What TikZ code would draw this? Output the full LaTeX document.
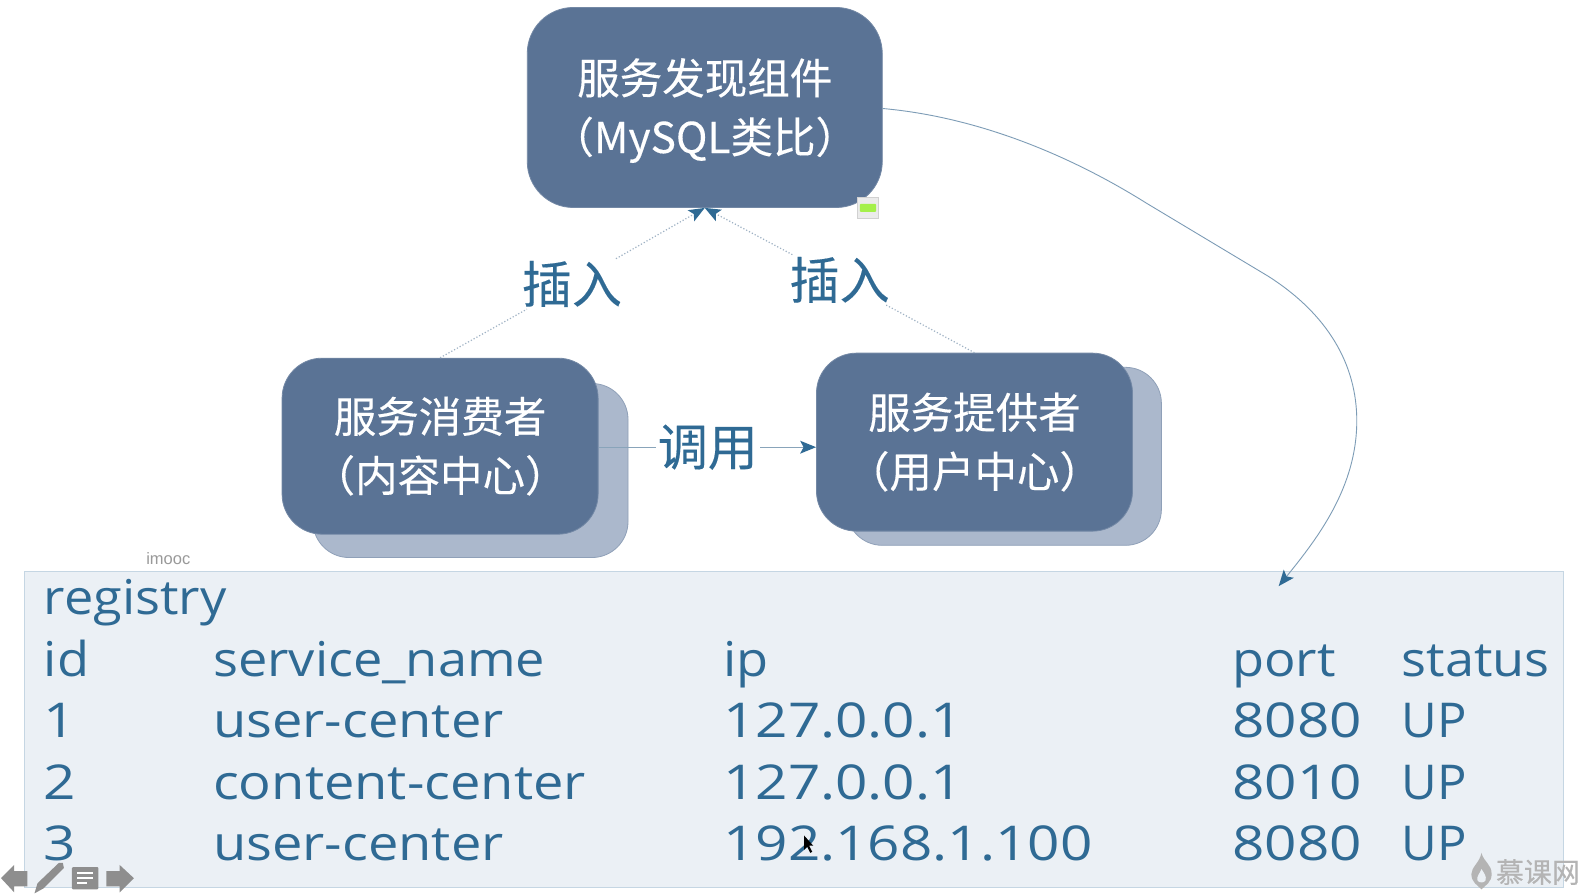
\documentclass[tikz,border=0pt]{standalone}
\usepackage{fontspec}
\setmainfont{Open Sans}
\newfontfamily\cjk[FakeBold=0.25]{Noto Sans CJK SC}
\newfontfamily\wordface[FakeStretch=1.09]{Open Sans}
\newfontfamily\hyphface[FakeStretch=1.13]{Open Sans}
\newfontfamily\digitface[FakeStretch=1.18]{Open Sans}
\newfontfamily\capface[FakeStretch=1.02]{Open Sans}
\newfontfamily\smallface{Liberation Sans}
\usetikzlibrary{arrows.meta}
\definecolor{boxblue}{HTML}{5A7395}
\definecolor{shadowblue}{HTML}{ABB8CC}
\definecolor{shadowedge}{HTML}{8FA0B8}
\definecolor{inkblue}{HTML}{2F6A94}
\definecolor{tablefill}{HTML}{EBF0F5}
\definecolor{tableedge}{HTML}{C5D6E3}
\definecolor{linegray}{HTML}{9FB2C4}
\definecolor{iconfill}{HTML}{8E8E8E}
\definecolor{markgray}{HTML}{B4B4B4}
\definecolor{lamp}{HTML}{A4F04A}
\tikzset{
  x=1.014pt,y=-1.014pt,
  card/.style={draw=boxblue!85!white,line width=.8pt,fill=boxblue,rounded corners=40pt,minimum width=316pt,minimum height=178pt,inner sep=0pt,align=center,text=white,font=\cjk\fontsize{42.5}{59}\selectfont},
  topcard/.style={card,rounded corners=46pt,minimum width=355pt,minimum height=200pt},
  backcard/.style={draw=shadowedge,line width=.8pt,fill=shadowblue,rounded corners=36pt,minimum width=315pt,minimum height=174pt,inner sep=0pt},
  edgelabel/.style={text=inkblue,inner sep=2pt,font=\cjk\fontsize{50}{52}\selectfont},
  cell/.style={anchor=base west,inner sep=0pt,text=inkblue,font=\fontsize{48}{50}\selectfont},
  dots/.style={draw=linegray,line width=1.2pt,dotted},
  tip/.style={-{Stealth[length=16pt,width=13pt,inset=3.5pt,color=inkblue,line width=0pt,sep=0pt]}},
  icon/.style={fill=iconfill,draw=none}
}
\begin{document}
\begin{tikzpicture}
\useasboundingbox (0,0) rectangle (1568,881.66);
\fill[white] (0,0) rectangle (1568,881.66);
% table
\node[draw=tableedge,line width=1pt,fill=tablefill,minimum width=1518*1.014pt,minimum height=311*1.014pt,inner sep=0pt] (table) at (783,719.5) {};
\node[anchor=base,inner sep=0pt,text=markgray!85!black,font=\smallface\fontsize{16.5}{18}\selectfont] (wm) at (166,557) {imooc};
\foreach \n/\x/\y/\f/\t in {
 r/43/606/\wordface/registry,
 h1/43/667/\wordface/id,h2/210/667/\wordface/service\_name,h3/713/667/\wordface/ip,h4/1215/667/\wordface/port,h5/1382/667/\wordface/status,
 a1/43/727/\digitface/1,a2/210/727/\hyphface/user-center,a3/713/727/\digitface/127.0.0.1,a4/1215/727/\digitface/8080,a5/1382/727/\capface/UP,
 b1/43/788/\digitface/2,b2/210/788/\hyphface/content-center,b3/713/788/\digitface/127.0.0.1,b4/1215/788/\digitface/8010,b5/1382/788/\capface/UP,
 c1/43/849/\digitface/3,c2/210/849/\hyphface/user-center,c3/713/849/\digitface/192.168.1.100,c4/1215/849/\digitface/8080,c5/1382/849/\capface/UP}
 {\node[cell] (\n) at (\x,\y) {\f\t};}
% cards
\node[backcard] (consback) at (464,464) {};
\node[backcard,minimum height=178pt] (provback) at (990,450) {};
\node[card,minimum height=176pt] (cons) at (434,440) {服务消费者\\（内容中心）};
\node[card] (prov) at (961,436) {服务提供者\\（用户中心）};
\node[topcard] (top) at (695,106) {\rule{0pt}{42pt}服务发现组件\\（MySQL类比）};
% labels
\node[edgelabel] (ins1) at (564,280) {插入};
\node[edgelabel] (ins2) at (828,276) {插入};
\node[edgelabel] (call) at (698,441) {调用};
% connectors
\draw[dots] (cons.north) -- (ins1);
\draw[dots,tip] (ins1) -- (top.south);
\draw[dots] (prov.north) -- (ins2);
\draw[dots,tip] (ins2) -- (top.south);
\draw[draw=linegray!80!inkblue,line width=1pt] (cons.east |- call) -- (call);
\draw[draw=linegray!80!inkblue,line width=1pt,tip] (call) -- (prov.west |- call);
\coordinate (tableend) at (1261,578);
\draw[draw=linegray!70!inkblue,line width=.9pt,tip]
  (top.east) ++(0,1) .. controls (960,115) and (1050,150) .. (1130,200)
  -- (1250,272) .. controls (1310,310) and (1338,360) .. (1338,415)
  .. controls (1338,480) and (1300,530) .. (tableend);
% small status icon
\node[draw=black!18,fill=black!8,minimum width=21pt,minimum height=21pt,inner sep=0pt] (status) at (856,205) {};
\fill[rounded corners=1pt,fill=lamp] (848,201) rectangle (864,209);
% player controls
\fill[icon] (1,866) -- (14,853) -- (14,859) -- (27,859) -- (27,874) -- (14,874) -- (14,880) -- cycle;
\fill[icon] (34,881) -- (37,871) -- (58,851) -- (62,851) -- (63,856) -- (43,876) -- cycle;
\fill[icon,rounded corners=1pt] (71,855) rectangle (97,877);
\draw[white,line width=1.6pt] (76,861) -- (92,861) (76,866) -- (92,866) (76,871) -- (86,871);
\fill[icon] (132,866) -- (118,853) -- (118,859) -- (105,859) -- (105,874) -- (118,874) -- (118,880) -- cycle;
\fill[black] (793,824) -- (793,838) -- (796,835) -- (799,841) -- (801,840) -- (798,834) -- (802,834) -- cycle;
% watermark
\fill[markgray] (1461,841) .. controls (1463,850) and (1471,852) .. (1471,862) .. controls (1471,870) and (1465,873) .. (1461,877) .. controls (1457,873) and (1451,870) .. (1451,862) .. controls (1451,855) and (1459,851) .. (1461,841) -- cycle;
\fill[tablefill] (1461,857) .. controls (1464,862) and (1466,864) .. (1465,868) .. controls (1464,871) and (1458,871) .. (1457,868) .. controls (1456,864) and (1459,862) .. (1461,857) -- cycle;
\node[anchor=west,inner sep=0pt,text=markgray,font=\cjk\fontsize{28}{30}\selectfont] (brand) at (1475,860) {慕课网};
\end{tikzpicture}
\end{document}
